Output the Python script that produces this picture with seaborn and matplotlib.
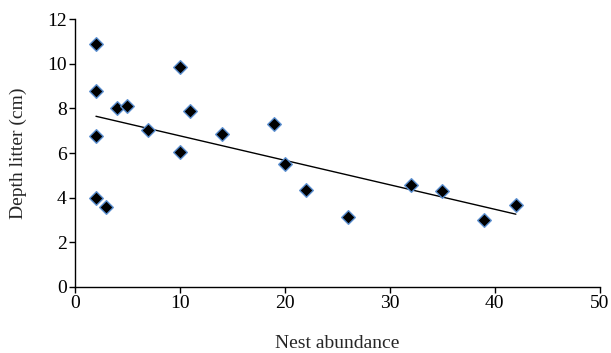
import numpy as np
import pandas as pd
import matplotlib
matplotlib.use("Agg")
import matplotlib.pyplot as plt
import seaborn as sns

nest_abundance = [2, 2, 2, 2, 3, 4, 5, 7, 10, 10, 11, 14, 19, 20, 22, 26, 32, 35, 39, 42]
depth_litter = [10.9, 8.8, 6.75, 4.0, 3.6, 8.0, 8.1, 7.05, 9.85, 6.05, 7.9, 6.85, 7.3, 5.5, 4.35, 3.15, 4.55, 4.3, 3.0, 3.65]
x_ticks = [0, 10, 20, 30, 40, 50]
y_ticks = [0, 2, 4, 6, 8, 10, 12]

df = pd.DataFrame({"Nest abundance": nest_abundance, "Depth litter (cm)": depth_litter})

sns.set_style("ticks")
plt.rcParams['font.family'] = ['Liberation Serif', 'DejaVu Serif']

fig = plt.figure(figsize=(6.11, 3.53), dpi=100)
ax = fig.add_axes([0.1227, 0.187, 0.859, 0.759])

sns.regplot(data=df, x="Nest abundance", y="Depth litter (cm)", ax=ax, ci=None, marker="D",
            scatter_kws=dict(s=48, color="black", edgecolors="#5b8fd0", linewidths=1.0, zorder=3, alpha=1),
            line_kws=dict(color="black", lw=1.0, zorder=2))

ax.set_xlim(0, 50)
ax.set_ylim(0, 12)
ax.set_xticks(x_ticks)
ax.set_yticks(y_ticks)
ax.tick_params(axis="both", direction="out", length=4, width=1, labelsize=14, colors="black", pad=2)
for s in ["top", "right"]:
    ax.spines[s].set_visible(False)
for s in ["left", "bottom"]:
    ax.spines[s].set_linewidth(1.0)
    ax.spines[s].set_color("black")
ax.set_xlabel("Nest abundance", fontsize=14, labelpad=16)
ax.set_ylabel("Depth litter (cm)", fontsize=14, labelpad=14)

fig.savefig("out.png", dpi=100)
